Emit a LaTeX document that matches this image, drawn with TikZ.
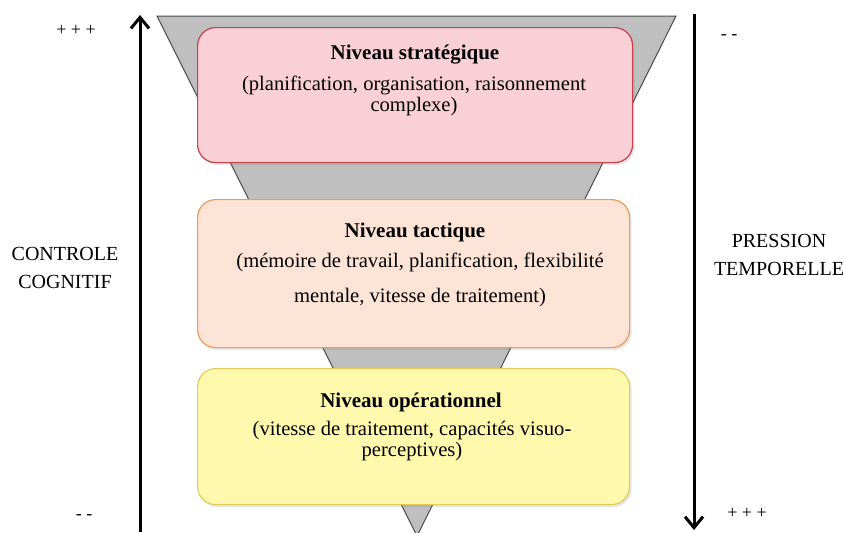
\documentclass[tikz,border=0pt]{standalone}
\usepackage{fontspec}
\setmainfont{Liberation Serif}
\usetikzlibrary{arrows.meta, positioning, shadows}

\definecolor{stratfill}{HTML}{F9D0D5}
\definecolor{stratline}{HTML}{C8404C}
\definecolor{tactfill}{HTML}{FDE4D6}
\definecolor{tactline}{HTML}{EE9A5A}
\definecolor{opfill}{HTML}{FFF9AE}
\definecolor{opline}{HTML}{E3CC5C}

\begin{document}
\begin{tikzpicture}[
  x=0.5pt, y=-0.5pt,
  box/.style={rectangle, draw, rounded corners=9pt, line width=0.6pt, anchor=north west,
    drop shadow={opacity=0.2, shadow xshift=1pt, shadow yshift=-1.2pt}},
  title/.style={font=\fontsize{10.5}{12}\selectfont\bfseries},
  desc/.style={align=center, font=\fontsize{10.3}{8.3}\selectfont},
  side/.style={align=center, font=\fontsize{10}{14}\selectfont},
  signlbl/.style={font=\fontsize{9}{10}\selectfont},
  arrow/.style={-{Straight Barb[length=5.5pt, width=9pt]}, line width=1.5pt}
]
\useasboundingbox (0,0) rectangle (844,532);

% Funnel behind the levels
\draw[fill=black!25, draw=black!70, line width=0.5pt] (157,16) -- (676,16) -- (417,536) -- cycle;

% Levels
\node[box, fill=stratfill, draw=stratline, minimum width=217.5pt, minimum height=67.5pt] (strat) at (197,27) {};
\node[box, fill=tactfill, draw=tactline, minimum width=216pt, minimum height=74pt] (tact) at (197,199) {};
\node[box, fill=opfill, draw=opline, minimum width=216pt, minimum height=68pt] (oper) at (197,368) {};

% Texts of the levels
\node[title] (stratT) at (415,55) {Niveau stratégique};
\node[desc] (stratD) at (414,96) {(planification, organisation, raisonnement\\complexe)};
\node[title] (tactT) at (415,232) {Niveau tactique};
\node[desc, font=\fontsize{10.3}{17.5}\selectfont] (tactD) at (420,280) {(mémoire de travail, planification, flexibilité\\mentale, vitesse de traitement)};
\node[title] (operT) at (411,402) {Niveau opérationnel};
\node[desc] (operD) at (412,441) {(vitesse de traitement, capacités visuo-\\perceptives)};

% Axes
\coordinate (cbas) at (140,532);
\coordinate (chaut) at (140,15);
\coordinate (phaut) at (694,14);
\coordinate (pbas) at (694,530);
\draw[arrow] (cbas) -- (chaut);
\draw[arrow] (phaut) -- (pbas);

% Labels of the axes
\node[side] (ctrl) at (65,268) {CONTROLE\\COGNITIF};
\node[side] (press) at (779,255) {PRESSION\\TEMPORELLE};
\node[signlbl] (cplus) at (76,30) {+ + +};
\node[signlbl] (cmoins) at (84,517) {- -};
\node[signlbl] (pmoins) at (729,37) {- -};
\node[signlbl] (pplus) at (747,513) {+ + +};

\end{tikzpicture}
\end{document}
